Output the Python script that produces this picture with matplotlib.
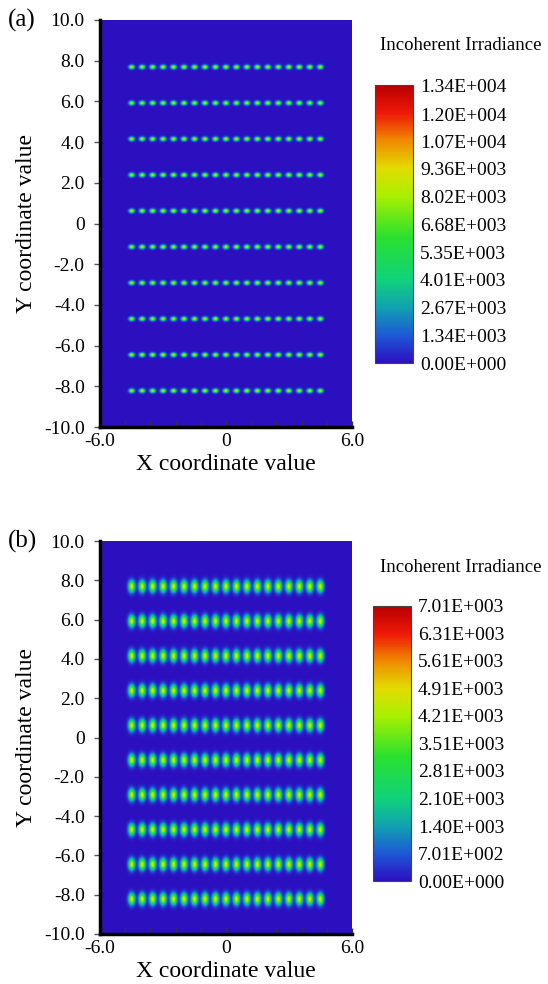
import numpy as np
import matplotlib.pyplot as plt
from matplotlib.colors import LinearSegmentedColormap

plt.rcParams['font.family'] = ['Liberation Serif', 'DejaVu Serif']

# --- Spot layout (both panels share it) ---
spot_x = [-4.5, -4.0, -3.5, -3.0, -2.5, -2.0, -1.5, -1.0, -0.5, 0.0,
          0.5, 1.0, 1.5, 2.0, 2.5, 3.0, 3.5, 4.0, 4.5]
row_y = [7.7, 5.93, 4.16, 2.39, 0.62, -1.15, -2.92, -4.69, -6.46, -8.23]

# --- Panel (a): small sharp spots ---
peak_a = 9400
sigma_a = (0.085, 0.066)
cbar_vals_a = [0, 1340, 2670, 4010, 5350, 6680, 8020, 9360, 10700, 12000, 13400]
cbar_labels_a = ["0.00E+000", "1.34E+003", "2.67E+003", "4.01E+003", "5.35E+003",
                 "6.68E+003", "8.02E+003", "9.36E+003", "1.07E+004", "1.20E+004",
                 "1.34E+004"]

# --- Panel (b): larger blurred spots ---
peak_b = 4900
sigma_b = (0.105, 0.2)
cbar_vals_b = [0, 701, 1400, 2100, 2810, 3510, 4210, 4910, 5610, 6310, 7010]
cbar_labels_b = ["0.00E+000", "7.01E+002", "1.40E+003", "2.10E+003", "2.81E+003",
                 "3.51E+003", "4.21E+003", "4.91E+003", "5.61E+003", "6.31E+003",
                 "7.01E+003"]

y_ticks = [10, 8, 6, 4, 2, 0, -2, -4, -6, -8, -10]
y_tick_labels = ["10.0", "8.0", "6.0", "4.0", "2.0", "0", "-2.0", "-4.0", "-6.0", "-8.0", "-10.0"]
x_ticks = [-6.0, -4.8, -3.6, -2.4, -1.2, 0.0, 1.2, 2.4, 3.6, 4.8, 6.0]
x_tick_labels = ["-6.0", "", "", "", "", "0", "", "", "", "", "6.0"]

# irradiance colormap (dark blue -> teal -> green -> yellow -> red)
cmap = LinearSegmentedColormap.from_list("irr", [
    (0.00, "#2c10c0"), (0.10, "#1d5ad6"), (0.20, "#10a2b0"), (0.30, "#10d27a"),
    (0.45, "#28e030"), (0.60, "#a8f000"), (0.70, "#e2dc00"), (0.80, "#f08a00"),
    (0.90, "#ef1808"), (1.00, "#b80000")])

W, H = 548, 984


def field(peak, sig):
    gx = np.linspace(-6, 6, 480)
    gy = np.linspace(-10, 10, 800)
    X, Y = np.meshgrid(gx, gy)
    Z = np.zeros_like(X)
    for yc in row_y:
        for xc in spot_x:
            Z += peak * np.exp(-((X - xc) ** 2 / (2 * sig[0] ** 2) + (Y - yc) ** 2 / (2 * sig[1] ** 2)))
    return Z


def panel(fig, ax_px, cax_px, title_y, tag, peak, sig, vals, labels):
    l, t, r, b = ax_px
    ax = fig.add_axes([l / W, 1 - b / H, (r - l) / W, (b - t) / H])
    im = ax.imshow(field(peak, sig), extent=[-6, 6, -10, 10], origin="lower",
                   cmap=cmap, vmin=0, vmax=vals[-1], aspect="auto", interpolation="bilinear")
    ax.set_xlim(-6, 6)
    ax.set_ylim(-10, 10)
    ax.set_yticks(y_ticks)
    ax.set_yticklabels(y_tick_labels, fontsize=14)
    ax.set_xticks(x_ticks)
    ax.set_xticklabels(x_tick_labels, fontsize=14)
    ax.tick_params(axis="y", direction="out", length=4, width=1, color="#555555", pad=7)
    ax.tick_params(axis="x", direction="in", length=4, width=1, color="#333333", pad=4)
    for s in ["top", "right"]:
        ax.spines[s].set_visible(False)
    for s in ["left", "bottom"]:
        ax.spines[s].set_linewidth(2.5)
        ax.spines[s].set_color("black")
    ax.set_xlabel("X coordinate value", fontsize=17, labelpad=3)
    ax.set_ylabel("Y coordinate value", fontsize=17, labelpad=5)
    fig.text(8 / W, 1 - t / H, tag, fontsize=18, ha="left", va="center")

    cl, ct, cr, cb = cax_px
    cax = fig.add_axes([cl / W, 1 - cb / H, (cr - cl) / W, (cb - ct) / H])
    cbar = fig.colorbar(im, cax=cax)
    cbar.set_ticks(vals)
    cbar.set_ticklabels(labels)
    cbar.ax.tick_params(length=0, labelsize=14, pad=5)
    cbar.outline.set_linewidth(0.8)
    cbar.outline.set_edgecolor("#444444")
    fig.text(461 / W, 1 - title_y / H, "Incoherent Irradiance", fontsize=13.5, ha="center", va="center")


fig = plt.figure(figsize=(W / 100, H / 100), dpi=100)
panel(fig, (100, 20, 352, 427), (375, 85, 413, 363), 45, "(a)",
      peak_a, sigma_a, cbar_vals_a, cbar_labels_a)
panel(fig, (100, 541, 352, 934), (373, 606, 411, 881), 568, "(b)",
      peak_b, sigma_b, cbar_vals_b, cbar_labels_b)

fig.savefig("out.png", dpi=100)
